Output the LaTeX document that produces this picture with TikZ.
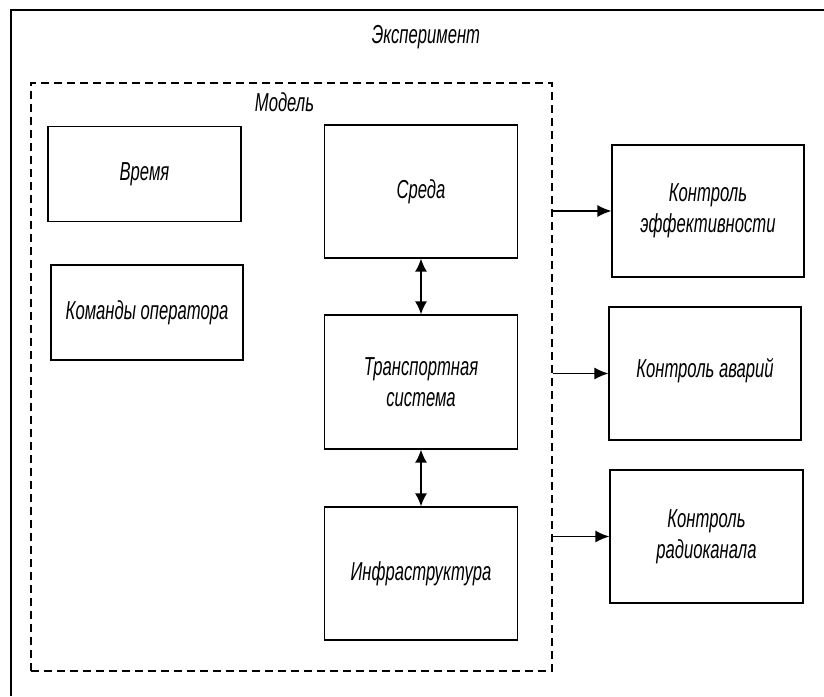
\documentclass[tikz,border=0pt]{standalone}
\usepackage{fontspec}
\newfontfamily\diagfont[FakeStretch=0.64]{Liberation Sans}
\usetikzlibrary{arrows.meta}

\begin{document}
\begin{tikzpicture}[x=1pt, y=-1pt,
    block/.style={draw, line width=1.2pt, minimum width=193pt, align=center,
      font=\diagfont\itshape\fontsize{26}{31}\selectfont},
    caption/.style={font=\diagfont\itshape\fontsize{26}{31}\selectfont},
    link/.style={line width=1.4pt, -{Latex[length=14pt,width=12pt]}},
    twoway/.style={line width=1.6pt, {Latex[length=13pt,width=12pt]}-{Latex[length=13pt,width=12pt]}}]
  \useasboundingbox (0,0) rectangle (824,696);
  % outer frame
  \draw[line width=1.2pt] (11,696) -- (11,10) -- (824,10);
  \node[caption] (exper) at (426,37) {Эксперимент};
  % model
  \node[draw, dash pattern=on 8pt off 5pt, line width=1.1pt, minimum width=521pt, minimum height=588pt] (model) at (291.5,377) {};
  \node[caption] (modeltitle) at (284.5,102) {Модель};
  \node[block, minimum height=95pt] (vremya) at (144.5,174) {Время};
  \node[block, minimum width=192pt, minimum height=95pt] (komandy) at (147,312.5) {Команды оператора};
  \node[block, minimum height=133pt] (sreda) at (421,191.5) {Среда};
  \node[block, minimum height=134pt] (transport) at (421,382) {Транспортная\\система};
  \node[block, minimum height=133pt] (infra) at (421,573.5) {Инфраструктура};
  % control blocks
  \node[block, minimum width=192pt, minimum height=132pt] (keff) at (708,211) {Контроль\\эффективности};
  \node[block, minimum width=192pt, minimum height=133pt, text depth=12pt] (kavar) at (705,373.5) {Контроль аварий};
  \node[block, minimum height=133pt] (kradio) at (706.5,536.5) {Контроль\\радиоканала};
  \draw[twoway] (sreda) -- (transport);
  \draw[twoway] (transport) -- (infra);
  \draw[link] (model.east |- keff.west) -- (keff.west);
  \draw[link] (model.east |- kavar.west) -- (kavar.west);
  \draw[link] (model.east |- kradio.west) -- (kradio.west);
\end{tikzpicture}
\end{document}
